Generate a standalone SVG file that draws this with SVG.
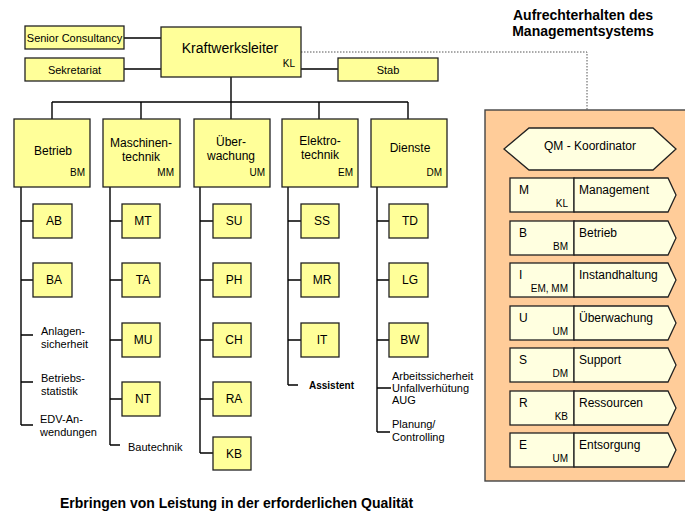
<svg xmlns="http://www.w3.org/2000/svg" width="685" height="513" viewBox="0 0 685 513">
<style>
text{font-family:"Liberation Sans",Arial,sans-serif;fill:#000}
.box{fill:#FFFF99;stroke:#222;stroke-width:1.3}
.pbox{fill:#FFFFE0;stroke:#222;stroke-width:1.3}
.ln{stroke:#000;stroke-width:1.4;fill:none}
.dot{stroke:#555;stroke-width:1;stroke-dasharray:1.5,1.5;fill:none}
.t11{font-size:11px}
.t12{font-size:12px}
.t14{font-size:14px}
.s10{font-size:10px}
.c{text-anchor:middle}
.r{text-anchor:end}
.b{font-weight:bold}
</style>

<!-- titles -->
<g id="title-top">
<text class="t14 b c" x="583" y="20">Aufrechterhalten des</text>
<text class="t14 b c" x="583" y="36">Managementsystems</text>
</g>
<g id="title-bottom">
<text class="t14 b" x="60" y="508">Erbringen von Leistung in der erforderlichen Qualität</text>
</g>

<!-- QM panel background -->
<g id="qm-panel">
<rect x="485" y="110" width="215" height="371" fill="#FFCC99" stroke="#444" stroke-width="1.4"/>
</g>

<!-- connectors -->
<g id="connectors">
<path class="ln" d="M124 38H161M124 69H161M301 69H338"/>
<path class="dot" d="M301 52H587V110"/>
<path class="ln" d="M231 77V102M52 102H408M52 102V119M141 102V119M231 102V119M319 102V119M408 102V119"/>
<!-- Betrieb -->
<path class="ln" d="M21 187V425M21 221H33M21 280H33M21 335H33M21 382H33M21 425H33"/>
<!-- Maschinentechnik -->
<path class="ln" d="M110 187V445M110 221H122M110 280H122M110 340H122M110 399H122M110 445H120"/>
<!-- Ueberwachung -->
<path class="ln" d="M200 187V453M200 221H213M200 280H213M200 340H213M200 399H213M200 453H213"/>
<!-- Elektrotechnik -->
<path class="ln" d="M288 187V385M288 221H301M288 280H301M288 340H301M288 385H298"/>
<!-- Dienste -->
<path class="ln" d="M377 187V432M377 221H389M377 280H389M377 340H389M377 388H391M377 432H390"/>
</g>

<!-- top level -->
<g id="senior-consultancy">
<rect class="box" x="25" y="26" width="99" height="23"/>
<text class="t11 c" x="74.5" y="42">Senior Consultancy</text>
</g>
<g id="sekretariat">
<rect class="box" x="25" y="58" width="99" height="23"/>
<text class="t11 c" x="74.5" y="74">Sekretariat</text>
</g>
<g id="kraftwerksleiter">
<rect class="box" x="161" y="27" width="140" height="50"/>
<text class="t14 c" x="230" y="53">Kraftwerksleiter</text>
<text class="s10 r" x="295" y="67">KL</text>
</g>
<g id="stab">
<rect class="box" x="338" y="58" width="100" height="23"/>
<text class="t11 c" x="388" y="74">Stab</text>
</g>

<!-- departments -->
<g id="betrieb">
<rect class="box" x="14" y="119" width="76" height="68"/>
<text class="t12 c" x="53" y="155">Betrieb</text>
<text class="s10 r" x="85" y="176">BM</text>
</g>
<g id="maschinentechnik">
<rect class="box" x="103" y="119" width="77" height="68"/>
<text class="t12 c" x="141" y="147">Maschinen-</text>
<text class="t12 c" x="141" y="161">technik</text>
<text class="s10 r" x="174" y="176">MM</text>
</g>
<g id="ueberwachung">
<rect class="box" x="194" y="119" width="76" height="68"/>
<text class="t12 c" x="231" y="146">Über-</text>
<text class="t12 c" x="231" y="160">wachung</text>
<text class="s10 r" x="265" y="176">UM</text>
</g>
<g id="elektrotechnik">
<rect class="box" x="282" y="119" width="76" height="68"/>
<text class="t12 c" x="320" y="145">Elektro-</text>
<text class="t12 c" x="320" y="159">technik</text>
<text class="s10 r" x="353" y="176">EM</text>
</g>
<g id="dienste">
<rect class="box" x="371" y="119" width="76" height="68"/>
<text class="t12 c" x="410" y="152">Dienste</text>
<text class="s10 r" x="442" y="176">DM</text>
</g>

<!-- sub units -->
<g id="ab"><rect class="box" x="33" y="204" width="39" height="34"/><text class="t12 c" x="54" y="225">AB</text></g>
<g id="ba"><rect class="box" x="33" y="263" width="39" height="34"/><text class="t12 c" x="54" y="284">BA</text></g>
<g id="mt"><rect class="box" x="122" y="204" width="38" height="34"/><text class="t12 c" x="143" y="225">MT</text></g>
<g id="ta"><rect class="box" x="122" y="263" width="38" height="34"/><text class="t12 c" x="143" y="284">TA</text></g>
<g id="mu"><rect class="box" x="122" y="323" width="38" height="34"/><text class="t12 c" x="143" y="344">MU</text></g>
<g id="nt"><rect class="box" x="122" y="382" width="38" height="34"/><text class="t12 c" x="143" y="403">NT</text></g>
<g id="su"><rect class="box" x="213" y="204" width="38" height="34"/><text class="t12 c" x="234" y="225">SU</text></g>
<g id="ph"><rect class="box" x="213" y="263" width="38" height="34"/><text class="t12 c" x="234" y="284">PH</text></g>
<g id="ch"><rect class="box" x="213" y="323" width="38" height="34"/><text class="t12 c" x="234" y="344">CH</text></g>
<g id="ra"><rect class="box" x="213" y="382" width="38" height="34"/><text class="t12 c" x="234" y="403">RA</text></g>
<g id="kb"><rect class="box" x="213" y="437" width="38" height="33"/><text class="t12 c" x="234" y="458">KB</text></g>
<g id="ss"><rect class="box" x="301" y="204" width="38" height="34"/><text class="t12 c" x="322" y="225">SS</text></g>
<g id="mr"><rect class="box" x="301" y="263" width="38" height="34"/><text class="t12 c" x="322" y="284">MR</text></g>
<g id="it"><rect class="box" x="301" y="323" width="38" height="34"/><text class="t12 c" x="322" y="344">IT</text></g>
<g id="td"><rect class="box" x="389" y="204" width="39" height="34"/><text class="t12 c" x="410" y="225">TD</text></g>
<g id="lg"><rect class="box" x="389" y="263" width="39" height="34"/><text class="t12 c" x="410" y="284">LG</text></g>
<g id="bw"><rect class="box" x="389" y="323" width="39" height="34"/><text class="t12 c" x="410" y="344">BW</text></g>

<!-- text-only units -->
<g id="anlagensicherheit"><text class="t11" x="41" y="335">Anlagen-</text><text class="t11" x="41" y="348">sicherheit</text></g>
<g id="betriebsstatistik"><text class="t11" x="41" y="382">Betriebs-</text><text class="t11" x="41" y="395">statistik</text></g>
<g id="edv"><text class="t11" x="40" y="423">EDV-An-</text><text class="t11" x="40" y="436">wendungen</text></g>
<g id="bautechnik"><text class="t11" x="128" y="451">Bautechnik</text></g>
<g id="assistent"><text class="s10 b" x="309" y="389">Assistent</text></g>
<g id="arbeitssicherheit"><text class="t11" x="392" y="380">Arbeitssicherheit</text><text class="t11" x="392" y="392">Unfallverhütung</text><text class="t11" x="392" y="404">AUG</text></g>
<g id="planung"><text class="t11" x="392" y="428">Planung/</text><text class="t11" x="392" y="441">Controlling</text></g>

<!-- QM coordinator -->
<g id="qm-koordinator">
<polygon class="pbox" points="504,149 529,128 653,128 676,149 653,170 529,170"/>
<text class="t12 c" x="590" y="150">QM - Koordinator</text>
</g>

<g id="proc-m">
<rect class="pbox" x="510" y="178" width="64" height="34"/>
<polygon class="pbox" points="574,178 668,178 676,195 668,212 574,212"/>
<text class="t12" x="519" y="194">M</text><text class="s10 r" x="568" y="207">KL</text><text class="t12" x="579" y="194">Management</text>
</g>
<g id="proc-b">
<rect class="pbox" x="510" y="221" width="64" height="34"/>
<polygon class="pbox" points="574,221 668,221 676,238 668,255 574,255"/>
<text class="t12" x="519" y="237">B</text><text class="s10 r" x="568" y="250">BM</text><text class="t12" x="579" y="237">Betrieb</text>
</g>
<g id="proc-i">
<rect class="pbox" x="510" y="263" width="64" height="34"/>
<polygon class="pbox" points="574,263 668,263 676,280 668,297 574,297"/>
<text class="t12" x="519" y="279">I</text><text class="s10 r" x="568" y="292">EM, MM</text><text class="t12" x="579" y="279">Instandhaltung</text>
</g>
<g id="proc-u">
<rect class="pbox" x="510" y="306" width="64" height="34"/>
<polygon class="pbox" points="574,306 668,306 676,323 668,340 574,340"/>
<text class="t12" x="519" y="322">U</text><text class="s10 r" x="568" y="335">UM</text><text class="t12" x="579" y="322">Überwachung</text>
</g>
<g id="proc-s">
<rect class="pbox" x="510" y="348" width="64" height="34"/>
<polygon class="pbox" points="574,348 668,348 676,365 668,382 574,382"/>
<text class="t12" x="519" y="364">S</text><text class="s10 r" x="568" y="377">DM</text><text class="t12" x="579" y="364">Support</text>
</g>
<g id="proc-r">
<rect class="pbox" x="510" y="391" width="64" height="34"/>
<polygon class="pbox" points="574,391 668,391 676,408 668,425 574,425"/>
<text class="t12" x="519" y="407">R</text><text class="s10 r" x="568" y="420">KB</text><text class="t12" x="579" y="407">Ressourcen</text>
</g>
<g id="proc-e">
<rect class="pbox" x="510" y="433" width="64" height="34"/>
<polygon class="pbox" points="574,433 668,433 676,450 668,467 574,467"/>
<text class="t12" x="519" y="449">E</text><text class="s10 r" x="568" y="462">UM</text><text class="t12" x="579" y="449">Entsorgung</text>
</g>
</svg>
